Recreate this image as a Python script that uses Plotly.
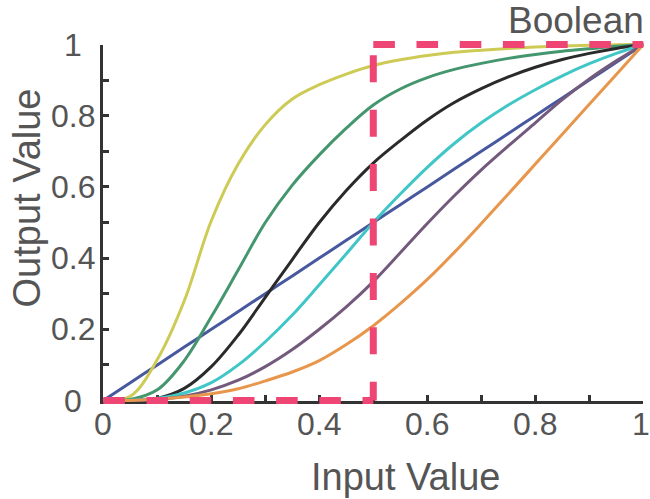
import plotly.graph_objects as go

# ---------------- data ----------------
x_vals = [0, 0.05, 0.1, 0.15, 0.2, 0.25, 0.3, 0.35, 0.4, 0.45, 0.5,
          0.55, 0.6, 0.65, 0.7, 0.75, 0.8, 0.85, 0.9, 0.95, 1]

linear_blue = [0, 0.05, 0.1, 0.15, 0.2, 0.25, 0.3, 0.35, 0.4, 0.45, 0.5,
               0.55, 0.6, 0.65, 0.7, 0.75, 0.8, 0.85, 0.9, 0.95, 1]
yellow_vals = [0, 0.012, 0.115, 0.28, 0.505, 0.665, 0.775, 0.847, 0.887, 0.917, 0.941,
               0.957, 0.969, 0.978, 0.984, 0.989, 0.993, 0.996, 0.998, 0.999, 1]
green_vals = [0, 0.003, 0.03, 0.112, 0.235, 0.367, 0.5, 0.605, 0.69, 0.765, 0.83,
              0.875, 0.907, 0.93, 0.947, 0.961, 0.972, 0.981, 0.988, 0.995, 1]
black_vals = [0, 0, 0.006, 0.034, 0.095, 0.184, 0.29, 0.396, 0.5, 0.59, 0.667,
              0.73, 0.788, 0.837, 0.876, 0.909, 0.936, 0.958, 0.975, 0.989, 1]
cyan_vals = [0, 0.001, 0.006, 0.021, 0.05, 0.1, 0.165, 0.24, 0.325, 0.412, 0.5,
             0.58, 0.655, 0.722, 0.78, 0.83, 0.873, 0.912, 0.946, 0.975, 1]
purple_vals = [0, 0, 0.003, 0.012, 0.03, 0.057, 0.095, 0.143, 0.2, 0.263, 0.334,
               0.415, 0.497, 0.575, 0.648, 0.715, 0.78, 0.845, 0.903, 0.954, 1]
orange_vals = [0, 0, 0.004, 0.01, 0.019, 0.033, 0.055, 0.08, 0.112, 0.157, 0.21,
               0.272, 0.34, 0.416, 0.497, 0.58, 0.664, 0.748, 0.832, 0.916, 1]

boolean_x = [0, 0.5, 0.5, 1]
boolean_y = [0, 0, 1, 1]

tick_vals = [0, 0.2, 0.4, 0.6, 0.8, 1]
tick_text = ["0", "0.2", "0.4", "0.6", "0.8", "1"]

x_title = "Input Value"
y_title = "Output Value"
boolean_label = "Boolean"

# ---------------- geometry / style ----------------
W, H = 650, 499
ML, MR, MT, MB = 90, 0, 30, 90
PW, PH = W - ML - MR, H - MT - MB
PB = MT + PH  # bottom of plot area in px

X0PX, X1PX = 103.3, 643.3   # pixel of x=0, x=1
Y0PX, Y1PX = 400.5, 44.5    # pixel of y=0, y=1

def px_x(px):
    return (px - ML) / PW

def px_y(py):
    return (PB - py) / PH

FONT = "Liberation Sans, Arial, Helvetica, sans-serif"
TXT = "#555555"
AX = "#333333"

series = [
    ("linear", linear_blue, "#48589E"),
    ("yellow", yellow_vals, "#CDCB55"),
    ("green", green_vals, "#44966E"),
    ("black", black_vals, "#2A2A2A"),
    ("cyan", cyan_vals, "#40C6C6"),
    ("purple", purple_vals, "#735A7D"),
    ("orange", orange_vals, "#E8964B"),
]

fig = go.Figure()
for name, vals, col in series:
    fig.add_trace(go.Scatter(
        x=x_vals, y=vals, mode="lines", name=name,
        line=dict(color=col, width=3, shape="spline", smoothing=1),
        xaxis="x2", yaxis="y2", showlegend=False, hoverinfo="skip"))

PINK = "#EF4575"
fig.add_trace(go.Scatter(
    x=boolean_x[0:2], y=boolean_y[0:2], mode="lines",
    line=dict(color=PINK, width=7, dash="21.6px,21.6px"),
    xaxis="x2", yaxis="y2", showlegend=False, hoverinfo="skip"))
vdash = "0px,10.8px," + ",".join(["27px,27.4px"] * 7)
fig.add_trace(go.Scatter(
    x=boolean_x[2:0:-1], y=boolean_y[2:0:-1], mode="lines",
    line=dict(color=PINK, width=7, dash=vdash),
    xaxis="x2", yaxis="y2", showlegend=False, hoverinfo="skip"))
fig.add_trace(go.Scatter(
    x=boolean_x[2:4], y=boolean_y[2:4], mode="lines",
    line=dict(color=PINK, width=7, dash="21.6px,21.6px"),
    xaxis="x2", yaxis="y2", showlegend=False, hoverinfo="skip"))

axis_common = dict(
    range=[0, 1], showline=True, linecolor=AX, linewidth=3,
    ticks="inside", ticklen=6, tickwidth=3, tickcolor=AX,
    tickvals=tick_vals, ticktext=tick_text, showticklabels=False,
    showgrid=False, zeroline=False, automargin=False, fixedrange=True,
    minor=dict(dtick=0.1, tick0=0, ticks="inside", ticklen=6,
               tickwidth=3, tickcolor=AX, showgrid=False),
)

fig.update_layout(
    width=W, height=H, template="none",
    margin=dict(l=ML, r=MR, t=MT, b=MB, pad=0),
    paper_bgcolor="white", plot_bgcolor="rgba(0,0,0,0)",
    showlegend=False,
    xaxis=dict(domain=[px_x(X0PX), px_x(X1PX)], anchor="y", **axis_common),
    yaxis=dict(domain=[px_y(Y0PX), px_y(Y1PX)], anchor="x", **axis_common),
    xaxis2=dict(domain=[0, 1], anchor="y2", visible=False, fixedrange=True,
                range=[(ML - X0PX) / (X1PX - X0PX), (ML + PW - X0PX) / (X1PX - X0PX)]),
    yaxis2=dict(domain=[0, 1], anchor="x2", visible=False, fixedrange=True,
                range=[(Y0PX - PB) / (Y0PX - Y1PX), (Y0PX - MT) / (Y0PX - Y1PX)]),
)

annotations = []
# y tick labels (centred column, as in the reference)
for v, t in zip(tick_vals, tick_text):
    annotations.append(dict(
        x=px_x(73), y=v, xref="paper", yref="y", text=t, showarrow=False,
        xanchor="center", yanchor="middle",
        font=dict(family=FONT, size=32, color=TXT)))
# x tick labels (last one kept inside the canvas)
for i, (v, t) in enumerate(zip(tick_vals, tick_text)):
    last = i == len(tick_vals) - 1
    annotations.append(dict(
        x=v, y=px_y(424), xref="x", yref="paper", text=t, showarrow=False,
        xanchor="center", yanchor="middle", xshift=-2.5 if last else 0,
        font=dict(family=FONT, size=32, color=TXT)))
annotations.append(dict(
    x=px_x(405.8), y=px_y(476.8), xref="paper", yref="paper", text=x_title,
    showarrow=False, xanchor="center", yanchor="middle",
    font=dict(family=FONT, size=38, color=TXT)))
annotations.append(dict(
    x=px_x(26.5), y=px_y(198), xref="paper", yref="paper", text=y_title,
    showarrow=False, xanchor="center", yanchor="middle", textangle=-90,
    font=dict(family=FONT, size=38, color=TXT)))
annotations.append(dict(
    x=px_x(646), y=px_y(20.5), xref="paper", yref="paper", text=boolean_label,
    showarrow=False, xanchor="right", yanchor="middle",
    font=dict(family=FONT, size=37, color=TXT)))
fig.update_layout(annotations=annotations)

fig.write_html("out.html", config={"displayModeBar": False},
               post_script="document.body.style.margin='0px';")
